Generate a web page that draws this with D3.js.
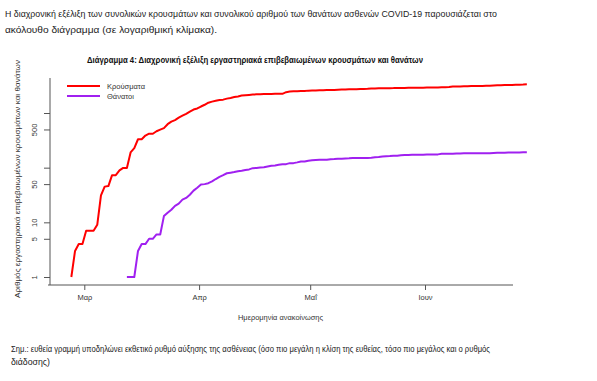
<!DOCTYPE html>
<html><head><meta charset="utf-8">
<script src="https://cdn.jsdelivr.net/npm/d3@7"></script>
<style>body{margin:0;background:#fff}svg{display:block}</style>
</head><body>
<svg id="c" width="597" height="381"></svg>
<script>
// ---- data ----
const casesStart = "2020-02-26";
const cases = [
  // Feb 26-29
  1,3,4,4,
  // Mar
  7,7,7,9,31,45,46,73,73,89,99,99,190,228,331,331,387,418,418,464,495,530,624,695,743,821,892,966,1061,1156,1212,
  // Apr
  1314,1415,1544,1613,1673,1735,1755,1832,1884,1955,2011,2081,2114,2145,2170,2192,2207,2224,2235,2235,2245,2245,2245,2401,2463,2490,2506,2517,2534,2566,
  // May
  2576,2591,2612,2620,2626,2632,2642,2663,2678,2691,2710,2716,2726,2744,2760,2770,2810,2819,2834,2836,2840,2850,2853,2873,2876,2878,2882,2892,2903,2906,2909,
  // Jun 1-28
  2915,2917,2918,2937,2952,2967,2980,3049,3058,3068,3083,3088,3108,3112,3121,3134,3148,3156,3178,3203,3227,3237,3256,3266,3287,3302,3310,3343
];
const deathsStart = "2020-03-12";
const deaths = [
  // Mar 12-31
  1,1,1,3,4,4,5,5,6,6,13,15,17,20,22,26,28,32,38,43,
  // Apr
  49,50,52,56,62,68,73,79,81,83,86,88,91,93,98,99,101,102,105,108,110,113,116,116,121,121,125,130,130,134,
  // May
  136,138,139,140,140,143,144,146,146,147,148,150,150,151,151,151,152,155,156,160,162,163,165,166,169,171,171,172,173,173,173,
  // Jun 1-28
  175,175,175,175,179,179,180,180,182,182,183,183,183,183,183,183,183,184,186,187,188,188,189,189,190,190,191,191
];
const seriesNames = ["Κρούσματα", "Θάνατοι"];
const seriesColors = ["#ff0000", "#a020f0"];
const monthTicks = ["2020-03-01","2020-04-01","2020-05-01","2020-06-01"];
const monthLabels = ["Μαρ","Απρ","Μαΐ","Ιουν"];
const yTicks = [1,5,10,50,100,500,1000];
const yTickLabels = {1:"1",5:"5",10:"10",50:"50",500:"500"};

const para1 = "Η διαχρονική εξέλιξη των συνολικών κρουσμάτων και συνολικού αριθμού των θανάτων ασθενών COVID-19 παρουσιάζεται στο";
const para2 = "ακόλουθο διάγραμμα (σε λογαριθμική κλίμακα).";
const title = "Διάγραμμα 4: Διαχρονική εξέλιξη εργαστηριακά επιβεβαιωμένων κρουσμάτων και θανάτων";
const yLabel = "Αριθμός εργαστηριακά επιβεβαιωμένων κρουσμάτων και θανάτων";
const xLabel = "Ημερομηνία ανακοίνωσης";
const note1 = "Σημ.: ευθεία γραμμή υποδηλώνει εκθετικό ρυθμό αύξησης της ασθένειας (όσο πιο μεγάλη η κλίση της ευθείας, τόσο πιο μεγάλος και ο ρυθμός";
const note2 = "διάδοσης)";

// ---- build ----
const DAY = 86400000;
function series(start, vals){
  const t0 = Date.parse(start + "T12:00:00Z");
  return vals.map((v,i)=>({d:new Date(t0 + i*DAY), v}));
}
const data = [series(casesStart, cases), series(deathsStart, deaths)];

const svg = d3.select("#c");
const FONT = "'Liberation Sans', Arial, sans-serif";

const x = d3.scaleUtc()
  .domain([new Date("2020-03-01T00:00:00Z"), new Date("2020-06-01T00:00:00Z")])
  .range([84.3, 425]);
const y = d3.scaleLog().domain([1,1000]).range([277, 113]);

function squeeze(sel, width){
  sel.attr("textLength", width).attr("lengthAdjust","spacingAndGlyphs");
  return sel;
}

// paragraph
squeeze(svg.append("text").attr("x",5).attr("y",16.5).attr("font-family",FONT).attr("font-size",9.6).attr("fill","#222").text(para1), 492);
squeeze(svg.append("text").attr("x",5).attr("y",32.5).attr("font-family",FONT).attr("font-size",9.6).attr("fill","#222").text(para2), 212);
// title
squeeze(svg.append("text").attr("x",87).attr("y",62.5).attr("font-family",FONT).attr("font-weight","bold").attr("font-size",8.6).attr("fill","#111").text(title), 336);

// axes lines
const axisColor = "#555";
svg.append("line").attr("x1",50).attr("x2",50).attr("y1",78).attr("y2",285).attr("stroke",axisColor).attr("stroke-width",1);
svg.append("line").attr("x1",48).attr("x2",513).attr("y1",285).attr("y2",285).attr("stroke",axisColor).attr("stroke-width",1);

// y axis
const yAxis = d3.axisLeft(y).tickValues(yTicks).tickSize(6).tickSizeOuter(0)
  .tickFormat(d => yTickLabels[d] || "");
const gy = svg.append("g").attr("transform","translate(50,0)").call(yAxis);
gy.select(".domain").remove();
gy.selectAll(".tick line").attr("stroke",axisColor);
gy.selectAll(".tick text")
  .attr("font-family",FONT).attr("font-size",7.5).attr("fill","#333")
  .attr("x",0).attr("dy",0).attr("text-anchor","middle")
  .attr("transform","translate(-13,0) rotate(-90)");

// x axis
const xAxis = d3.axisBottom(x).tickValues(monthTicks.map(s=>new Date(s+"T00:00:00Z"))).tickSize(5).tickSizeOuter(0)
  .tickFormat((d,i)=>monthLabels[i]);
const gx = svg.append("g").attr("transform","translate(0,285)").call(xAxis);
gx.select(".domain").remove();
gx.selectAll(".tick line").attr("stroke",axisColor);
gx.selectAll(".tick text").attr("font-family",FONT).attr("font-size",7.5).attr("fill","#333").attr("y",10);

// axis labels
squeeze(svg.append("text").attr("x",238).attr("y",319.5).attr("font-family",FONT).attr("font-size",7.5).attr("fill","#333").text(xLabel), 85);
const yl = svg.append("text").attr("font-family",FONT).attr("font-size",8).attr("fill","#333")
  .attr("transform","translate(19.5,298) rotate(-90)").text(yLabel);
squeeze(yl, 238);

// lines
const line = d3.line().x(p=>x(p.d)).y(p=>y(p.v));
data.forEach((s,i)=>{
  svg.append("path").datum(s).attr("d",line).attr("fill","none")
    .attr("stroke",seriesColors[i]).attr("stroke-width",2).attr("stroke-linejoin","round");
});

// legend
const lg = svg.append("g");
seriesNames.forEach((n,i)=>{
  const yy = 86 + i*10;
  lg.append("line").attr("x1",67).attr("x2",100).attr("y1",yy).attr("y2",yy).attr("stroke",seriesColors[i]).attr("stroke-width",2);
  lg.append("text").attr("x",107).attr("y",yy+2.7).attr("font-family",FONT).attr("font-size",7.5).attr("fill","#333").text(n);
});

// footnote
squeeze(svg.append("text").attr("x",11).attr("y",352).attr("font-family",FONT).attr("font-size",8.6).attr("fill","#222").text(note1), 479);
squeeze(svg.append("text").attr("x",11).attr("y",364.5).attr("font-family",FONT).attr("font-size",8.6).attr("fill","#222").text(note2), 39);
</script>
</body></html>
